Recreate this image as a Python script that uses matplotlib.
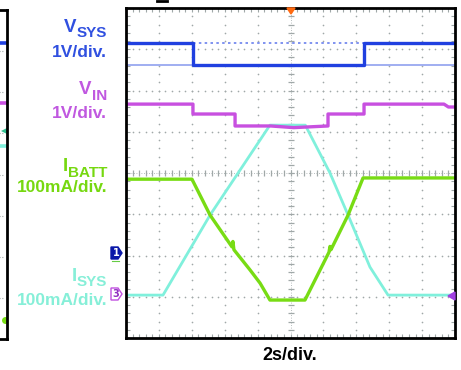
import numpy as np
import matplotlib
matplotlib.use("Agg")
import matplotlib.pyplot as plt
from matplotlib.patches import Polygon

# time axis: 2 s/div, 10 div ; vertical values in screen divisions (-4..4)
vsys_t = [0, 4.07, 4.07, 14.47, 14.47, 20]
vsys_y = [3.15, 3.15, 2.62, 2.62, 3.15, 3.15]

vin_t = [0, 4.07, 4.07, 6.63, 6.63, 8.8, 10.2, 12.28, 12.28, 14.47, 14.47, 19.33, 19.6, 20]
vin_y = [1.67, 1.67, 1.43, 1.43, 1.14, 1.14, 1.10, 1.14, 1.43, 1.43, 1.67, 1.67, 1.60, 1.60]

isys_t = [0, 2.25, 5.11, 8.15, 8.75, 10.9, 12.40, 13.50, 14.83, 15.93, 20]
isys_y = [-2.96, -2.96, -1.02, 0.80, 1.16, 1.16, 0.0, -1.02, -2.28, -2.96, -2.96]

ibatt_t = [0, 4.01, 5.11, 6.44, 6.50, 6.56, 7.54, 8.15, 8.75, 10.88,
           12.34, 12.40, 12.46, 13.50, 14.41, 20]
ibatt_y = [-0.15, -0.15, -1.02, -1.79, -1.66, -1.86, -2.35, -2.67, -3.08, -3.08,
           -1.92, -1.78, -1.86, -1.02, -0.12, -0.12]

# (symbol, subscript, scale, colour, symbol baseline, subscript baseline, scale baseline)
labels = [("V", "SYS", "1V/div.", "#3050e0", 33, 37, 57),
          ("V", "IN", "1V/div.", "#c058e0", 95, 100, 118),
          ("I", "BATT", "100mA/div.", "#76d810", 172, 177, 192),
          ("I", "SYS", "100mA/div.", "#86efd8", 282, 286, 305)]

c_vsys = "#2040e0"
c_vin = "#c850e0"
c_ibatt = "#78dc14"
c_isys = "#80f0dc"
grid_c = "#a0a8a8"

W, H = 461, 370
fig = plt.figure(figsize=(W / 100, H / 100), dpi=100)


def fx(x):
    return x / W


def fy(y):
    return 1 - y / H


# main scope screen
ax = fig.add_axes([fx(126), fy(338), 329 / W, 330 / H])
ax.set_xlim(0, 20)
ax.set_ylim(-4, 4)

# dotted graticule
for gx in range(2, 20, 2):
    if gx == 10:
        continue
    yy = np.arange(-4, 4.01, 0.2)
    ax.plot(np.full_like(yy, gx), yy, ls="none", marker="o", ms=1.2, color=grid_c, mew=0)
for gy in range(-3, 4):
    if gy == 0:
        continue
    xx = np.arange(0, 20.01, 0.4)
    ax.plot(xx, np.full_like(xx, gy), ls="none", marker="o", ms=1.2, color=grid_c, mew=0)

# centre cross with minor marks
ax.axvline(10, color=grid_c, lw=0.6, ls=(0, (1, 2)))
ax.axhline(0, color=grid_c, lw=0.6, ls=(0, (1, 2)))
xx = np.arange(0, 20.01, 0.4)
ax.plot(xx, np.zeros_like(xx), ls="none", marker="|", ms=5, color=grid_c, mew=0.9)
yy = np.arange(-4, 4.01, 0.2)
ax.plot(np.full_like(yy, 10), yy, ls="none", marker="_", ms=5, color=grid_c, mew=0.9)

# reference levels of VSYS
ax.plot([4.07, 14.47], [3.15, 3.15], color="#6a80ee", lw=1.2, ls=(0, (1.5, 2)))
ax.plot([0, 4.07], [2.62, 2.62], color="#98a8f0", lw=1.3)
ax.plot([14.47, 20], [2.62, 2.62], color="#98a8f0", lw=1.3)

ax.plot(isys_t, isys_y, color=c_isys, lw=2.0)
ax.plot(ibatt_t, ibatt_y, color=c_ibatt, lw=2.4)
ax.plot(vin_t, vin_y, color=c_vin, lw=2.4)
ax.plot(vsys_t, vsys_y, color=c_vsys, lw=2.4)

ax.set_xticks(np.arange(0, 20.01, 2))
ax.set_yticks(np.arange(-4, 4.01, 1))
ax.set_xticks(np.arange(0, 20.01, 0.4), minor=True)
ax.set_yticks(np.arange(-4, 4.01, 0.2), minor=True)
ax.tick_params(which="both", direction="in", top=True, right=True, length=3,
               color=grid_c, width=0.8, labelleft=False, labelbottom=False)
for s in ax.spines.values():
    s.set_linewidth(2)
    s.set_color("black")

# partial neighbouring screen at the left edge
ax2 = fig.add_axes([fx(-30), fy(339), 36.5 / W, 329 / H])
ax2.set_xlim(0, 1)
ax2.set_ylim(-4, 4)
ax2.set_xticks([])
ax2.set_yticks([])
for s in ax2.spines.values():
    s.set_linewidth(2)
    s.set_color("black")
for gy in range(-3, 4):
    ax2.plot([0.8, 0.92], [gy, gy], color=grid_c, lw=0.8, ls=(0, (1, 1.5)))
ax2.plot([0.75, 1], [3.2, 3.2], color=c_vsys, lw=2.6)
ax2.plot([0.75, 1], [1.75, 1.75], color=c_vin, lw=2.6)
ax2.plot([0.75, 1], [0.7, 0.7], color=c_isys, lw=2.6)
ax2.plot([0.93], [1.05], marker="<", ms=4, color="#30c090", mew=0)
ax2.plot([0.95], [-3.55], marker="o", ms=5, color=c_ibatt, mew=0)

# channel labels: big symbol + lowered subscript, scale below
font = dict(fontweight="bold", family="Liberation Sans")
for big, sub, scale, col, yb, ys, yl in labels:
    t_sub = fig.text(fx(107), fy(ys), sub, color=col, ha="right", va="baseline",
                     fontsize=11, **font)
    fig.add_artist(plt.Annotation(big, xy=(0, 0), xycoords=t_sub,
                                  xytext=(0, (ys - yb) * 0.72), textcoords="offset points",
                                  ha="right", va="bottom", color=col, fontsize=13.5, **font))
    fig.text(fx(107), fy(yl), scale, color=col, ha="right", va="baseline",
             fontsize=12.5, **font)

fig.text(fx(290), fy(356), "2s/div.", ha="center", va="center", fontsize=13, **font)


def marker(pts, fc, ec, lw=1.0):
    p = Polygon([(fx(x), fy(y)) for x, y in pts], closed=True, transform=fig.transFigure,
                facecolor=fc, edgecolor=ec, lw=lw)
    fig.patches.append(p)


# channel markers and trigger markers
marker([(111, 247), (118, 247), (122, 253), (118, 259), (111, 259)], "#0a18a8", "#0a18a8")
fig.text(fx(116), fy(253), "1", color="white", ha="center", va="center", fontsize=7,
         fontweight="bold")
fig.lines.append(plt.Line2D([fx(112), fx(119)], [fy(261), fy(261)], color="#66cc44",
                            lw=0.8, transform=fig.transFigure))
marker([(111, 288), (118, 288), (122, 294), (118, 300), (111, 300)], "white", "#c050e0")
fig.text(fx(116), fy(294), "3", color="#9030c0", ha="center", va="center", fontsize=7,
         fontweight="bold")
marker([(448, 296), (455, 292), (455, 300)], "#a040e0", "#a040e0")
marker([(287, 8), (295, 8), (291, 14)], "#ff6a10", "#ff6a10")
fig.lines.append(plt.Line2D([fx(157), fx(167)], [fy(1), fy(1)], color="black", lw=2,
                            transform=fig.transFigure))

fig.savefig("out.png", dpi=100)
